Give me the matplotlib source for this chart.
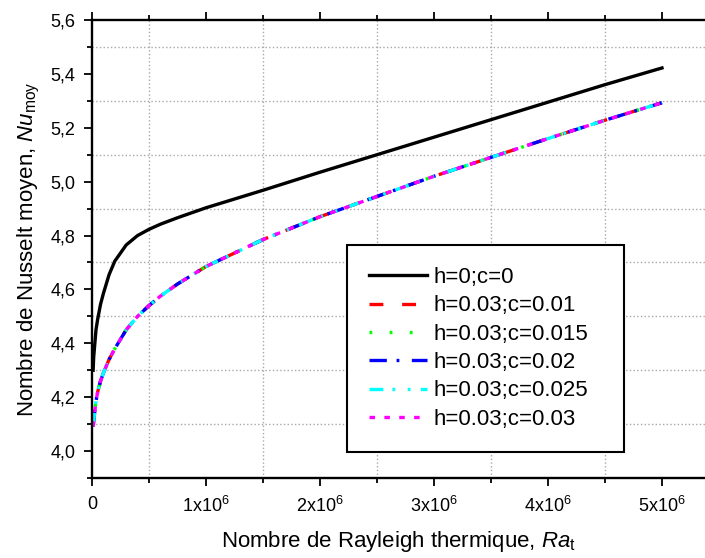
import matplotlib
matplotlib.use("Agg")
import matplotlib.pyplot as plt
from matplotlib.ticker import MultipleLocator, FixedLocator

plt.rcParams['font.family'] = ['Liberation Sans', 'DejaVu Sans']
plt.rcParams['mathtext.fontset'] = 'custom'
plt.rcParams['mathtext.rm'] = 'Liberation Sans'
plt.rcParams['mathtext.it'] = 'Liberation Sans:italic'
plt.rcParams['lines.scale_dashes'] = False

# ---- data ----
ra = [1e4, 1.5e4, 2.5e4, 3.5e4, 5e4, 7.5e4, 1e5, 1.5e5, 2e5, 3e5, 4e5, 5e5,
      6e5, 7.5e5, 1e6, 1.5e6, 2e6, 2.5e6, 3e6, 3.5e6, 4e6, 4.5e6, 5e6]
nu_h0_c0 = [4.30, 4.35, 4.40, 4.45, 4.49, 4.545, 4.585, 4.655, 4.705, 4.765,
            4.800, 4.823, 4.842, 4.866, 4.903, 4.968, 5.035, 5.10, 5.165,
            5.23, 5.295, 5.36, 5.422]
nu_c001 = [4.09, 4.115, 4.15, 4.185, 4.22, 4.26, 4.29, 4.34, 4.38, 4.45, 4.50,
           4.54, 4.575, 4.62, 4.685, 4.785, 4.87, 4.945, 5.02, 5.09, 5.16,
           5.228, 5.293]
nu_c0015 = [4.09, 4.115, 4.15, 4.185, 4.22, 4.26, 4.29, 4.34, 4.38, 4.45, 4.50,
            4.54, 4.575, 4.62, 4.685, 4.785, 4.87, 4.945, 5.02, 5.09, 5.16,
            5.228, 5.293]
nu_c002 = [4.09, 4.115, 4.15, 4.185, 4.22, 4.26, 4.29, 4.34, 4.38, 4.45, 4.50,
           4.54, 4.575, 4.62, 4.685, 4.785, 4.87, 4.945, 5.02, 5.09, 5.16,
           5.228, 5.293]
nu_c0025 = [4.09, 4.115, 4.15, 4.185, 4.22, 4.26, 4.29, 4.34, 4.38, 4.45, 4.50,
            4.54, 4.575, 4.62, 4.685, 4.785, 4.87, 4.945, 5.02, 5.09, 5.16,
            5.228, 5.293]
nu_c003 = [4.09, 4.115, 4.15, 4.185, 4.22, 4.26, 4.29, 4.34, 4.38, 4.45, 4.50,
           4.54, 4.575, 4.62, 4.685, 4.785, 4.87, 4.945, 5.02, 5.09, 5.16,
           5.228, 5.293]

labels = ['h=0;c=0', 'h=0.03;c=0.01', 'h=0.03;c=0.015', 'h=0.03;c=0.02',
          'h=0.03;c=0.025', 'h=0.03;c=0.03']
x_ticks = [0, 1e6, 2e6, 3e6, 4e6, 5e6]
x_ticklabels = ['0', r'1x10$^{6}$', r'2x10$^{6}$', r'3x10$^{6}$', r'4x10$^{6}$', r'5x10$^{6}$']
y_ticks = [4.0, 4.2, 4.4, 4.6, 4.8, 5.0, 5.2, 5.4, 5.6]
y_ticklabels = ['4,0', '4,2', '4,4', '4,6', '4,8', '5,0', '5,2', '5,4', '5,6']

fig = plt.figure(figsize=(7.05, 5.58), dpi=100)
ax = fig.add_axes([92/705, 1-478/558, 614/705, 458/558])

lw = 2.4
ax.plot(ra, nu_h0_c0, color='black', lw=lw, label=labels[0])
ax.plot(ra, nu_c001, color='#ff0000', lw=lw, dashes=(10, 13.5), label=labels[1])
ax.plot(ra, nu_c0015, color='#00ff00', lw=lw, dashes=(2, 12.5), label=labels[2])
ax.plot(ra, nu_c002, color='#0000ff', lw=lw, dashes=(12.5, 7, 2, 9), label=labels[3])
ax.plot(ra, nu_c0025, color='#00ffff', lw=lw, dashes=(10, 6.5, 2, 9, 2, 7.5), label=labels[4])
ax.plot(ra, nu_c003, color='#ff00ff', lw=lw, dashes=(4, 6.7), label=labels[5])

ax.set_xlim(0, 5.386e6)
ax.set_ylim(3.9, 5.6)

ax.xaxis.set_major_locator(FixedLocator(x_ticks))
ax.set_xticklabels(x_ticklabels)
ax.xaxis.set_minor_locator(MultipleLocator(0.5e6))
ax.yaxis.set_major_locator(FixedLocator(y_ticks))
ax.set_yticklabels(y_ticklabels)
ax.yaxis.set_minor_locator(MultipleLocator(0.1))

ax.grid(which='minor', color='#a8a8a8', linestyle=':', linewidth=1.0)
ax.grid(which='major', visible=False)

for s in ['left', 'bottom', 'top']:
    ax.spines[s].set_linewidth(1.7)
ax.spines['right'].set_visible(False)

ax.tick_params(axis='both', which='major', direction='out', length=6, width=1.3,
               labelsize=13, pad=6)
ax.tick_params(axis='both', which='minor', direction='out', length=3.5, width=1.3)
ax.tick_params(axis='x', which='both', top=True)
ax.tick_params(axis='x', which='major', pad=7)

ax.set_xlabel(r'Nombre de Rayleigh thermique, $\mathit{Ra}_{\mathrm{t}}$', fontsize=16, labelpad=9)
ax.set_ylabel(r'Nombre de Nusselt moyen, $\mathit{Nu}_{\mathrm{moy}}$', fontsize=16, labelpad=6)

leg = ax.legend(loc='lower left', bbox_to_anchor=(0.415, 0.057, 0.451, 0.458),
                mode='expand', borderaxespad=0, fontsize=16, handlelength=2.6,
                handletextpad=0.3, labelspacing=0.33, borderpad=1.0,
                fancybox=False, framealpha=1, edgecolor='black')
leg.get_frame().set_linewidth(1.5)

fig.savefig('out.png', dpi=100)
